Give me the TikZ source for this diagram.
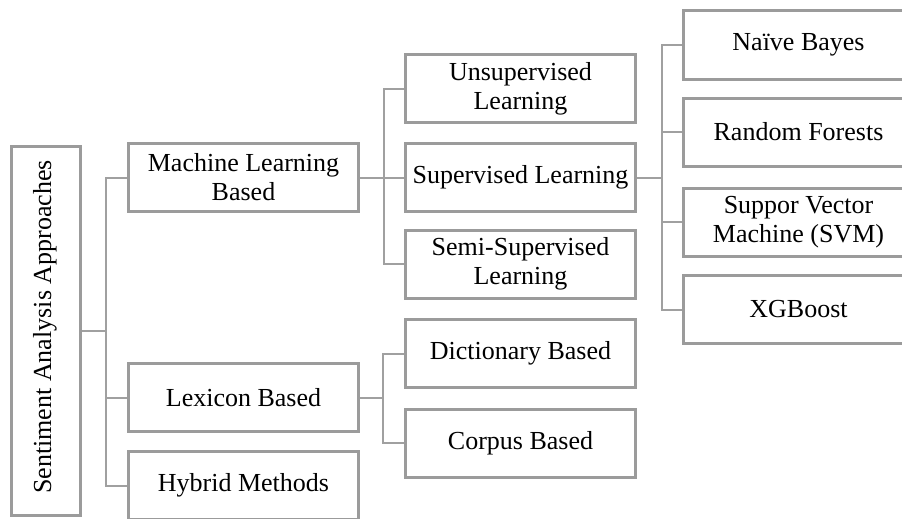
\documentclass[tikz,border=0pt]{standalone}
\usepackage{fontspec}
\setmainfont{Liberation Serif}
\usetikzlibrary{calc}
\definecolor{boxgray}{RGB}{155,155,155}
\definecolor{linegray}{RGB}{160,160,160}
\begin{document}
\begin{tikzpicture}[x=1pt,y=-1pt,
  box/.style={draw=boxgray, line width=3pt, fill=white, rectangle,
    minimum width=230pt, minimum height=68pt, inner sep=0pt, align=center,
    font=\fontsize{26}{29}\selectfont},
  conn/.style={draw=linegray, line width=2pt}]
\clip (0,0) rectangle (902,519);
\fill[white] (0,0) rectangle (902,519);
\node[box, minimum width=69pt, minimum height=369pt] (root) at (46,331) {};
\node[rotate=90, font=\fontsize{26}{29}\selectfont] (roottext) at (45,327) {Sentiment Analysis Approaches};
\node[box] (ml) at (243.5,177.5) {Machine Learning\\Based};
\node[box] (lex) at (243.5,397.5) {Lexicon Based};
\node[box] (hyb) at (243.5,485.5) {Hybrid Methods};
\node[box] (uns) at (520.5,88.5) {Unsupervised\\Learning};
\node[box] (sup) at (520.5,177.5) {Supervised Learning};
\node[box] (semi) at (520.5,264) {Semi-Supervised\\Learning};
\node[box] (dict) at (520.5,353.5) {Dictionary Based};
\node[box] (corp) at (520.5,443) {Corpus Based};
\node[box] (nb) at (798.5,45) {Naïve Bayes};
\node[box] (rf) at (798.5,132) {Random Forests};
\node[box] (svm) at (798.5,222) {Suppor Vector\\Machine (SVM)};
\node[box] (xgb) at (798.5,309.5) {XGBoost};
% connectors
\foreach \c in {ml,lex,hyb}
  \draw[conn] (root.east) -- ++(24,0) |- (\c.west);
\foreach \c in {uns,sup,semi}
  \draw[conn] (ml.east) -- ++(23.5,0) |- (\c.west);
\foreach \c in {dict,corp}
  \draw[conn] (lex.east) -- ++(22.5,0) |- (\c.west);
\foreach \c in {nb,rf,svm,xgb}
  \draw[conn] (sup.east) -- ++(24.5,0) |- (\c.west);
\end{tikzpicture}
\end{document}
